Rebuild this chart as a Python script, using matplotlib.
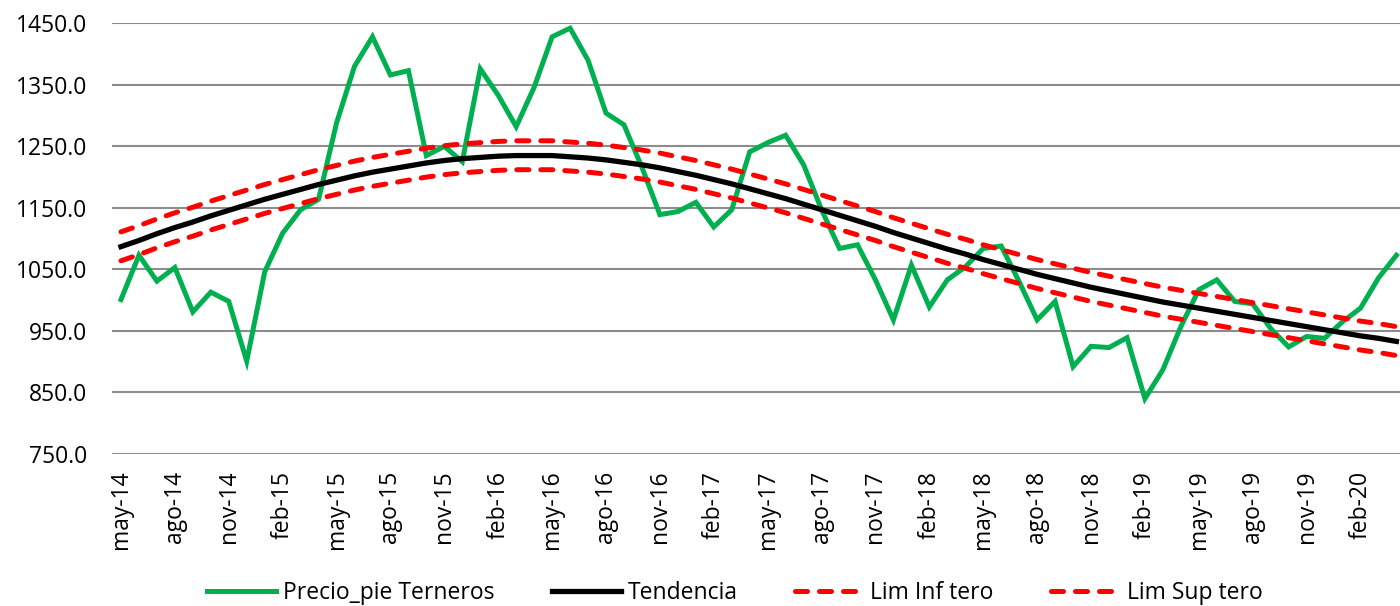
import matplotlib
matplotlib.use('Agg')
import matplotlib.pyplot as plt

# Precio pie terneros, mensual may-14 .. abr-20
precio = [1001, 1073, 1031, 1053, 981, 1013, 998, 901, 1046, 1109, 1147, 1164,
          1288, 1380, 1428, 1366, 1373, 1235, 1250, 1225, 1376, 1333, 1282, 1346,
          1428, 1442, 1390, 1304, 1285, 1216, 1139, 1144, 1159, 1119, 1147, 1241,
          1256, 1268, 1220, 1147, 1084, 1090, 1033, 968, 1057, 989, 1033, 1054,
          1084, 1088, 1030, 968, 998, 892, 925, 923, 939, 840, 887, 957,
          1017, 1033, 998, 994, 954, 924, 941, 938, 965, 987, 1036, 1073]

tendencia = [1087, 1097, 1108, 1118, 1127, 1137, 1146, 1155, 1164, 1172, 1180, 1188,
             1195, 1202, 1208, 1213, 1218, 1223, 1227, 1230, 1232, 1234, 1235, 1235,
             1235, 1233, 1231, 1228, 1224, 1220, 1215, 1209, 1203, 1196, 1189, 1181,
             1173, 1165, 1156, 1147, 1138, 1129, 1120, 1110, 1101, 1092, 1083, 1075,
             1066, 1058, 1050, 1042, 1035, 1028, 1021, 1015, 1009, 1003, 997, 992,
             987, 982, 977, 972, 967, 962, 957, 952, 947, 942, 938, 933]

lim_inf = [1064, 1074, 1085, 1095, 1104, 1114, 1123, 1132, 1141, 1149, 1157, 1165,
           1172, 1179, 1185, 1190, 1195, 1200, 1204, 1207, 1209, 1211, 1212, 1212,
           1212, 1210, 1208, 1205, 1201, 1197, 1192, 1186, 1180, 1173, 1166, 1158,
           1150, 1142, 1133, 1124, 1115, 1106, 1097, 1087, 1078, 1069, 1060, 1052,
           1043, 1035, 1027, 1019, 1012, 1005, 998, 992, 986, 980, 974, 969,
           964, 959, 954, 949, 944, 939, 934, 929, 924, 919, 915, 910]

lim_sup = [1111, 1121, 1132, 1142, 1151, 1161, 1170, 1179, 1188, 1196, 1204, 1212,
           1219, 1226, 1232, 1237, 1242, 1247, 1251, 1254, 1256, 1258, 1259, 1259,
           1259, 1257, 1255, 1252, 1248, 1244, 1239, 1233, 1227, 1220, 1213, 1205,
           1197, 1189, 1180, 1171, 1162, 1153, 1144, 1134, 1125, 1116, 1107, 1099,
           1090, 1082, 1074, 1066, 1059, 1052, 1045, 1039, 1033, 1027, 1021, 1016,
           1011, 1006, 1001, 996, 991, 986, 981, 976, 971, 966, 962, 957]

tick_labels = ['may-14', 'ago-14', 'nov-14', 'feb-15', 'may-15', 'ago-15', 'nov-15', 'feb-16',
               'may-16', 'ago-16', 'nov-16', 'feb-17', 'may-17', 'ago-17', 'nov-17', 'feb-18',
               'may-18', 'ago-18', 'nov-18', 'feb-19', 'may-19', 'ago-19', 'nov-19', 'feb-20']

plt.rcParams['font.family'] = ['Open Sans', 'DejaVu Sans']

x = list(range(len(precio)))

fig = plt.figure(figsize=(14, 6.06), dpi=100)
ax = fig.add_axes([0.08, 0.2508, 0.92, 0.7108])

ax.plot(x, precio, color='#00B050', lw=3.6, label='Precio_pie Terneros', solid_joinstyle='miter')
ax.plot(x, tendencia, color='black', lw=3.8, label='Tendencia')
ax.plot(x, lim_inf, color='#FF0000', lw=3.6, dashes=(2.4, 2.4), dash_capstyle='round', label='Lim Inf tero')
ax.plot(x, lim_sup, color='#FF0000', lw=3.6, dashes=(2.4, 2.4), dash_capstyle='round', label='Lim Sup tero')

ax.set_ylim(750, 1450)
ax.set_yticks(range(750, 1451, 100))
ax.set_yticklabels([f'{v:.1f}' for v in range(750, 1451, 100)])
ax.set_xlim(-0.5, 71.2)
ax.set_xticks(x[::3])
ax.set_xticklabels(tick_labels, rotation=90)

ax.grid(axis='y', color='#8C8C8C', lw=1.5)
ax.set_axisbelow(True)
for s in ax.spines.values():
    s.set_visible(False)
ax.tick_params(axis='y', length=0, pad=18, labelsize=16.5)
ax.tick_params(axis='x', length=0, pad=12, labelsize=16.5)

fig.legend(loc='center', bbox_to_anchor=(0.525, 0.0215), ncol=4, frameon=False,
           fontsize=16.5, handlelength=3.0, handletextpad=0.3, columnspacing=2.5)

fig.savefig('out.png', dpi=100)
